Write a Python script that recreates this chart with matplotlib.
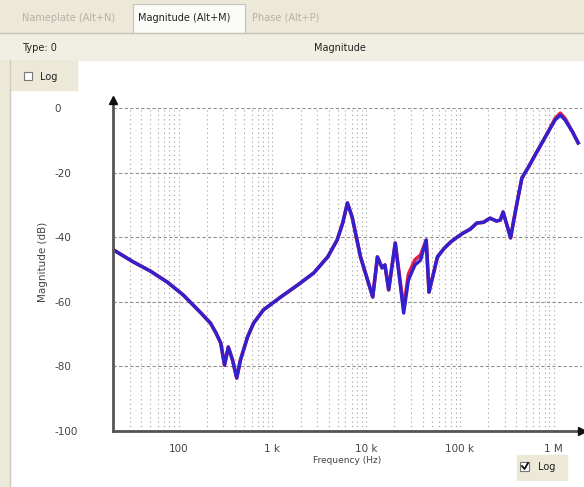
import numpy as np
import matplotlib
matplotlib.use("Agg")
import matplotlib.pyplot as plt
from matplotlib.patches import Rectangle

# log10 of frequency (Hz) and magnitude (dB)
log_freq = [1.31, 1.52, 1.70, 1.88, 2.05, 2.23, 2.34, 2.40, 2.45, 2.49, 2.53, 2.575,
            2.62, 2.66, 2.735, 2.80, 2.905, 3.09, 3.27, 3.44, 3.59, 3.69, 3.75, 3.80,
            3.85, 3.94, 4.07, 4.12, 4.17, 4.20, 4.24, 4.31, 4.40, 4.45, 4.52, 4.58,
            4.64, 4.67, 4.76, 4.83, 4.90, 4.96, 5.035, 5.11, 5.18, 5.25, 5.32, 5.39,
            5.43, 5.46, 5.51, 5.54, 5.57, 5.61, 5.66, 5.73, 5.80, 5.88, 5.94, 6.015,
            6.07, 6.12, 6.20, 6.26]
fit_db = [-44.0, -47.7, -50.5, -53.9, -57.9, -63.2, -66.6, -69.7, -72.8, -79.6, -74.0, -78.0,
          -83.6, -78.0, -70.9, -66.6, -62.5, -58.5, -54.8, -51.1, -46.1, -40.9, -35.6, -29.4,
          -33.7, -46.1, -58.5, -46.1, -49.5, -48.6, -56.3, -41.8, -63.5, -53.3, -48.6, -47.1,
          -40.9, -57.0, -46.1, -43.5, -41.5, -40.2, -38.7, -37.5, -35.6, -35.4, -34.1, -35.0,
          -34.7, -32.2, -37.2, -40.2, -35.3, -29.1, -21.7, -18.3, -14.6, -10.5, -7.4, -3.7,
          -2.2, -3.7, -7.4, -10.8]
measured_db = [-44.0, -47.7, -50.5, -53.9, -57.9, -63.2, -66.6, -69.7, -72.8, -79.6, -74.0, -78.0,
               -83.6, -78.0, -70.9, -66.6, -62.5, -58.5, -54.8, -51.1, -46.1, -40.9, -35.6, -29.4,
               -33.7, -46.1, -58.5, -46.1, -49.5, -48.6, -56.3, -41.8, -62.0, -51.5, -47.0, -45.5,
               -40.9, -57.0, -46.1, -43.5, -41.5, -40.2, -38.7, -37.5, -35.6, -35.4, -34.1, -35.0,
               -34.7, -32.2, -37.2, -40.2, -35.3, -29.1, -21.7, -18.3, -14.6, -10.5, -7.4, -3.2,
               -1.6, -3.2, -7.4, -10.8]

y_ticks = [0, -20, -40, -60, -80, -100]
x_ticks = [100, 1000, 10000, 100000, 1000000]
x_labels = ["100", "1 k", "10 k", "100 k", "1 M"]

freq = 10 ** np.array(log_freq)

fig = plt.figure(figsize=(5.84, 4.87), dpi=100)
fig.patch.set_facecolor("white")

# window chrome, drawn in pixel coordinates
bg = fig.add_axes([0, 0, 1, 1], zorder=0)
bg.set_xlim(0, 584)
bg.set_ylim(487, 0)
bg.axis("off")
beige = "#ece9d8"
bg.add_patch(Rectangle((0, 0), 584, 33, color=beige))
bg.add_patch(Rectangle((0, 33), 584, 27, color="#f1efe4"))
bg.add_patch(Rectangle((0, 60), 10, 427, color=beige))
bg.add_patch(Rectangle((10, 60), 67, 30, color=beige))
bg.add_patch(Rectangle((517, 455), 50, 25, color=beige))
bg.plot([0, 584], [33, 33], color="#c8c4b4", lw=1)
bg.plot([10, 10], [60, 487], color="#d0ccc0", lw=1)
bg.add_patch(Rectangle((133, 4), 112, 29, facecolor="#fbfbf8", edgecolor="#c8c4b4", lw=0.8))
bg.text(22, 18, "Nameplate (Alt+N)", fontsize=7, color="#b5b2a6", va="center")
bg.text(138, 18, "Magnitude (Alt+M)", fontsize=7, color="#222222", va="center")
bg.text(252, 18, "Phase (Alt+P)", fontsize=7, color="#b5b2a6", va="center")
bg.text(22, 48, "Type: 0", fontsize=7, color="#222222", va="center")
bg.text(340, 48, "Magnitude", fontsize=7, color="#222222", va="center", ha="center")
bg.add_patch(Rectangle((24, 72), 8, 8, facecolor="white", edgecolor="#777777", lw=0.8))
bg.text(40, 77, "Log", fontsize=7, color="#222222", va="center")
bg.add_patch(Rectangle((520, 462), 9, 9, facecolor="white", edgecolor="#777777", lw=0.8))
bg.plot([522, 524.5, 528], [466, 469, 463], color="#111111", lw=1.3)
bg.text(538, 467, "Log", fontsize=7, color="#222222", va="center")
bg.text(43, 262, "Magnitude (dB)", fontsize=7.5, color="#444444", rotation=90,
        ha="center", va="center")

ax = fig.add_axes([113 / 584, 1 - 431 / 487, 469 / 584, 323 / 487], zorder=1)
ax.set_facecolor("none")
ax.set_xscale("log")
ax.set_xlim(20, 2.0e6)
ax.set_ylim(-100, 0)

# grid: dotted verticals at every log tick, dashed horizontals every 20 dB
for dec in [10, 100, 1000, 10000, 100000, 1000000]:
    for m in range(1, 10):
        f = dec * m
        if 20 <= f <= 2.0e6:
            ax.axvline(f, color="#a0a0a0", lw=0.8, ls=(0, (1, 3)), zorder=1)
for yv in y_ticks[:-1]:
    ax.axhline(yv, color="#909090", lw=0.8, ls=(0, (3, 2)), zorder=1)

ax.plot(freq, measured_db, color="#e0204a", lw=2.6, zorder=3)
ax.plot(freq, fit_db, color="#3020d0", lw=2.4, zorder=4)

for side in ["top", "right", "left", "bottom"]:
    ax.spines[side].set_visible(False)
ax.plot([0, 0], [0, 1.02], transform=ax.transAxes, color="#555555", lw=2, clip_on=False, zorder=5)
ax.plot([0, 1.0], [0, 0], transform=ax.transAxes, color="#555555", lw=2, clip_on=False, zorder=5)
ax.plot([0], [1.025], transform=ax.transAxes, marker="^", color="#111111", ms=6, clip_on=False, zorder=6)
ax.plot([1.0], [0], transform=ax.transAxes, marker=">", color="#111111", ms=6, clip_on=False, zorder=6)

ax.set_yticks(y_ticks)
ax.set_yticklabels([str(v) for v in y_ticks])
ax.set_xticks(x_ticks)
ax.set_xticklabels(x_labels)
ax.xaxis.set_minor_locator(matplotlib.ticker.NullLocator())
ax.tick_params(axis="both", length=0, labelsize=7.5, labelcolor="#444444")
ax.tick_params(axis="y", pad=42)
for lab in ax.get_yticklabels():
    lab.set_horizontalalignment("left")
ax.tick_params(axis="x", pad=9)

ax.set_xlabel("Frequency (Hz)", fontsize=6.5, color="#444444", labelpad=2)

plt.savefig("out.png", dpi=100)
